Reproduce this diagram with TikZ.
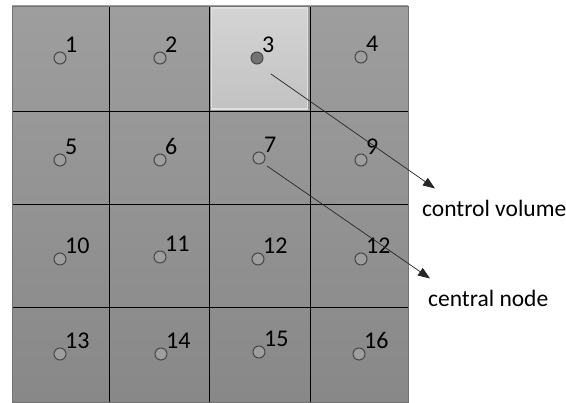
\documentclass[tikz,border=0pt]{standalone}
\usepackage{fontspec}
\setmainfont{Carlito}
\usetikzlibrary{arrows.meta,positioning}
\definecolor{gridtop}{HTML}{9E9E9E}
\definecolor{gridbot}{HTML}{888888}
\definecolor{cvtop}{HTML}{D4D4D4}
\definecolor{cvbot}{HTML}{C2C2C2}
\tikzset{
  pointnode/.style={circle, draw=black!72, fill=black!38, line width=1pt,
    minimum size=12pt, inner sep=0pt},
  numlabel/.style={font=\fontsize{24}{24}\selectfont, inner sep=0pt, label distance=0.5pt},
  callout/.style={font=\fontsize{23.5}{23.5}\selectfont, inner sep=0pt, anchor=base west},
  pointer/.style={-{Triangle[length=12pt,width=9pt]}, line width=0.7pt, black!85}
}
\begin{document}
\begin{tikzpicture}[x=1pt,y=-1pt]
\useasboundingbox (0,0) rectangle (566,403);
% grid of control volumes
\shade[top color=gridtop, bottom color=gridbot] (12,6) rectangle (408,402);
\shade[top color=cvtop, bottom color=cvbot, draw=white!88!black, line width=1.2pt] (211.5,8) rectangle (307.5,109);
\foreach \x in {109,209,310} \draw[line width=0.7pt] (\x,6) -- (\x,402);
\foreach \y in {111,204,307} \draw[line width=0.7pt] (12,\y) -- (408,\y);
\draw[black!55, line width=0.8pt] (12,6) rectangle (408,402);
% central nodes
\foreach \i/\x/\y/\t in {1/60/58/1, 2/160/58/2, 4/361/57/4,
    5/60/160/5, 6/160/160/6, 7/259/158/7, 8/361/160/9,
    9/60/259/10, 10/160/257/11, 11/258/259/12, 12/361/259/12,
    13/60/354/13, 14/161/354/14, 15/259/352/15, 16/359/354/16}
  \node[pointnode, label={[numlabel]north east:\t}] (c\i) at (\x,\y) {};
\node[pointnode, fill=black!55, label={[numlabel]north east:3}] (c3) at (257,58) {};
% callouts
\node[callout] (cv) at (422,217) {control volume};
\node[callout] (cn) at (428,307) {central node};
\coordinate (s3) at (271,74);
\coordinate (s7) at (267,166);
\draw[pointer] (s3) -- ([shift={(13,-12)}]cv.north west);
\draw[pointer] (s7) -- ([shift={(2,-12)}]cn.north west);
\end{tikzpicture}
\end{document}
